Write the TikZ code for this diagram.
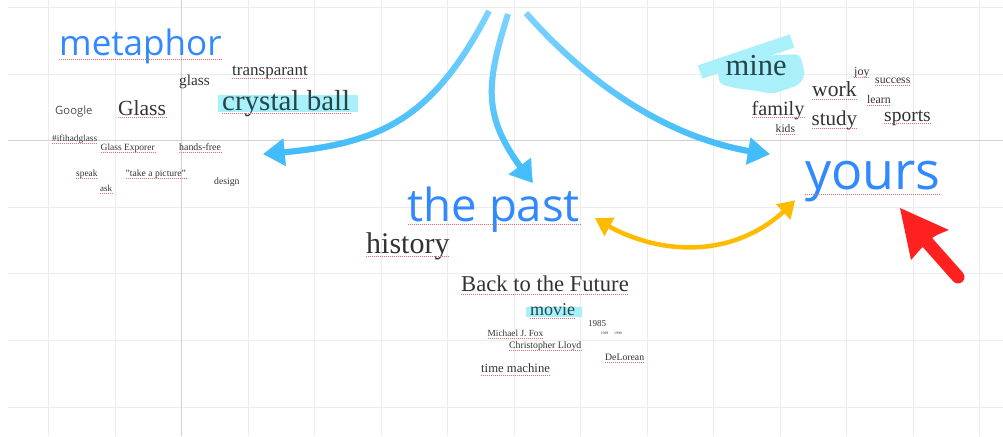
\documentclass[tikz,border=0pt]{standalone}
\usepackage{fontspec}
\setmainfont{Liberation Serif}
\newfontfamily\sansfont{Open Sans}
\usetikzlibrary{arrows.meta,bending,fadings}
\definecolor{gridc}{RGB}{236,236,236}
\definecolor{gridd}{RGB}{208,208,208}
\definecolor{wordblue}{RGB}{50,137,255}
\definecolor{txt}{RGB}{51,51,51}
\definecolor{hltxt}{RGB}{35,70,75}
\definecolor{hl}{RGB}{170,240,250}
\definecolor{arrowblue}{RGB}{66,188,250}
\definecolor{arrowbluetop}{RGB}{125,212,255}
\definecolor{amber}{RGB}{255,187,0}
\definecolor{redarrow}{RGB}{255,32,32}
\definecolor{spellred}{RGB}{235,110,110}
\newcommand{\fsz}[1]{\fontsize{#1}{#1}\selectfont}
\begin{document}
\begin{tikzpicture}[x=1pt,y=-1pt,
  word/.style={inner sep=0pt, anchor=base west, text=txt},
  hlword/.style={inner sep=0pt, anchor=base west, text=hltxt},
  bigword/.style={inner sep=0pt, anchor=base west, text=wordblue},
  gridline/.style={draw=gridc, line width=0.9pt},
  gridmain/.style={draw=gridd, line width=0.9pt},
  spellline/.style={color=spellred, line width=1pt, dash pattern=on 1pt off 1pt},
  bluelight/.style={draw=arrowbluetop, line width=6pt, -{Triangle[length=22pt,width=26pt,bend]}},
  bluearrow/.style={draw=arrowblue, line width=6pt, -{Triangle[length=22pt,width=26pt,bend]}},
  amberarrow/.style={draw=amber, line width=4.5pt, {Triangle[length=17pt,width=20pt,bend]}-{Triangle[length=17pt,width=20pt,bend]}}
]
\useasboundingbox (0,0) rectangle (1003,436);
\fill[white] (0,0) rectangle (1003,436);
% grid
\foreach \i in {0,...,14} \draw[gridline] ({48.5+66.5*\i},0) -- ({48.5+66.5*\i},436);
\foreach \j in {0,...,6} \draw[gridline] (8,{7.5+66.6*\j}) -- (1003,{7.5+66.6*\j});
\draw[gridmain] (181.5,0) -- (181.5,436);
\draw[gridmain] (8,140.7) -- (1003,140.7);
% highlights
\fill[hl] (218,95) rectangle (357.5,112);
\fill[hl] (526,306.5) rectangle (581.5,317);
\draw[hl, line width=14pt] (700,72) -- (792,41);
\fill[hl, rounded corners=5pt] (718,68) -- (760,56) -- (800,54) -- (805,75) -- (799,85) -- (772,94) -- (758,91) -- (735,88) -- (719,84) -- cycle;
% left cluster
\node[bigword, font=\sansfont\fsz{35}] (metaphor) at (59,55.5) {metaphor};
\node[word, font=\fsz{17}] (transparant) at (232,75.5) {transparant};
\node[word, font=\fsz{15.3}] (glasssmall) at (179,85.5) {glass};
\node[word, font=\fsz{21.5}] (Glass) at (118,115) {Glass};
\node[hlword, font=\fsz{29}] (crystal) at (222,110.5) {crystal ball};
\node[word, font=\sansfont\fsz{11.3}, text={rgb,255:red,80;green,80;blue,80}] (google) at (55,114.3) {Google};
\node[word, font=\fsz{9.3}] (hashtag) at (52,141.5) {\#ifihadglass};
\node[word, font=\fsz{9.5}] (glassexp) at (100.5,150.5) {Glass Exporer};
\node[word, font=\fsz{9.9}] (handsfree) at (179,150.5) {hands-free};
\node[word, font=\fsz{9.4}] (speak) at (76,176.5) {speak};
\node[word, font=\fsz{9.6}] (takepic) at (125.5,176.5) {"take a picture"};
\node[word, font=\fsz{9}] (ask) at (100,191.5) {ask};
\node[word, font=\fsz{9.7}] (design) at (214,184) {design};
% middle cluster
\node[bigword, font=\sansfont\fsz{45.5}] (thepast) at (407.5,221.5) {the past};
\node[word, font=\fsz{30}] (history) at (366,253) {history};
\node[word, font=\fsz{22.6}] (back) at (461,291.5) {Back to the Future};
\node[hlword, font=\fsz{18}] (movie) at (530,315.5) {movie};
\node[word, font=\fsz{9}] (y1985) at (588,326.5) {1985};
\node[word, font=\fsz{3.8}] (y1989) at (600.5,334.3) {1989};
\node[word, font=\fsz{3.8}] (y1990) at (614,334.3) {1990};
\node[word, font=\fsz{9.3}] (fox) at (487.5,336.5) {Michael J. Fox};
\node[word, font=\fsz{9.8}] (lloyd) at (509,348.3) {Christopher Lloyd};
\node[word, font=\fsz{9.75}] (delorean) at (605,360) {DeLorean};
\node[word, font=\fsz{12.7}] (timemachine) at (481,372.7) {time machine};
% right cluster
\node[hlword, font=\fsz{30.5}] (mine) at (725.5,75.7) {mine};
\node[word, font=\fsz{12}] (joy) at (854,75.7) {joy};
\node[word, font=\fsz{11.7}] (success) at (875,83.3) {success};
\node[word, font=\fsz{21.6}] (work) at (812,96.7) {work};
\node[word, font=\fsz{11.8}] (learn) at (867,103.3) {learn};
\node[word, font=\fsz{20.2}] (family) at (751.5,115) {family};
\node[word, font=\fsz{21}] (study) at (811.5,125.7) {study};
\node[word, font=\fsz{19.5}] (sports) at (884,121) {sports};
\node[word, font=\fsz{11.6}] (kids) at (775.5,132.7) {kids};
\node[bigword, font=\sansfont\fsz{52}] (yours) at (805,189) {yours};
% spell-check underlines (pixel-aligned)
\foreach \n/\uy in {metaphor/59.5, thepast/224.5, yours/194.5, crystal/113.5, history/256.5, back/294.5, Glass/117.5, transparant/78.5, work/99.5, family/117.5, study/128.5, sports/123.5, movie/318.5,
  hashtag/143.5, glassexp/152.5, handsfree/152.5, speak/178.5, takepic/178.5, ask/193.5, fox/338.5, lloyd/350.5, delorean/362.5, timemachine/375.5, joy/77.5, success/85.5, learn/105.5, kids/134.5}
  \draw[spellline] (\n.base west |- 0,\uy) -- (\n.base east |- 0,\uy);
% blue arrows
\coordinate (topL) at (489,11);
\coordinate (topM) at (508,14);
\coordinate (topR) at (526,13);
\coordinate (endL) at (263,154);
\coordinate (endM) at (533,183);
\coordinate (endR) at (770,154);
\draw[bluelight] (topL) .. controls (429,127) and (373,146) .. (endL);
\draw[bluelight] (topM) .. controls (484,90) and (482,121) .. (endM);
\draw[bluelight] (topR) .. controls (585,80) and (670,144) .. (endR);
\draw[bluearrow, path fading=north] (topL) .. controls (429,127) and (373,146) .. (endL);
\draw[bluearrow, path fading=north] (topM) .. controls (484,90) and (482,121) .. (endM);
\draw[bluearrow, path fading=north] (topR) .. controls (585,80) and (670,144) .. (endR);
% amber double arrow
\coordinate (ambL) at (595,218);
\coordinate (ambR) at (795,200);
\draw[amberarrow] (ambL) .. controls (655,258) and (740,262) .. (ambR);
% red arrow
\coordinate (redtip) at (900,208);
\coordinate (redc1) at (949,230);
\coordinate (redc2) at (911,260);
\coordinate (redbase) at (927,242);
\coordinate (redtail) at (958,277);
\draw[redarrow, line width=13pt, line cap=round] (redtail) -- (redbase);
\fill[redarrow] (redtip) -- (redc1) .. controls (931,237) .. (redc2) -- cycle;
\end{tikzpicture}
\end{document}
